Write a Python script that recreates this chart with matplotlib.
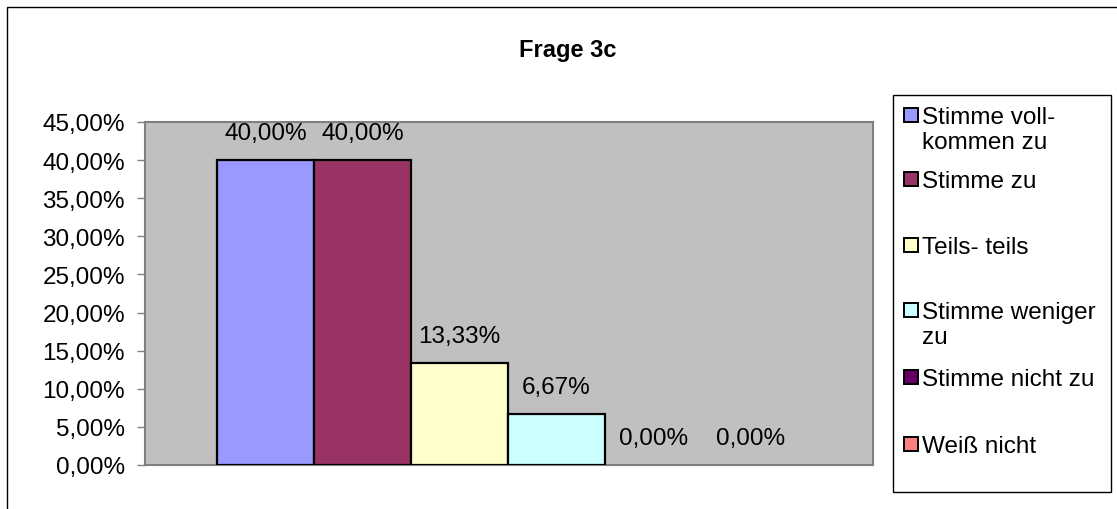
import matplotlib
matplotlib.use("Agg")
import matplotlib.pyplot as plt
from matplotlib.patches import Rectangle
from matplotlib.ticker import FuncFormatter

plt.rcParams['font.family'] = ['Liberation Sans', 'DejaVu Sans']

title = "Frage 3c"
categories = ["Stimme voll-\nkommen zu", "Stimme zu", "Teils- teils",
              "Stimme weniger\nzu", "Stimme nicht zu", "Weiß nicht"]
values = [40.00, 40.00, 13.33, 6.67, 0.00, 0.00]
colors = ["#9999FF", "#993366", "#FFFFCC", "#CCFFFF", "#660066", "#FF8080"]
yticks = [0, 5, 10, 15, 20, 25, 30, 35, 40, 45]

W, H = 1117, 510
fig = plt.figure(figsize=(W / 100, H / 100), dpi=100)

def fx(px):
    return px / W

def fy(py):
    return 1 - py / H

# outer chart border
fig.add_artist(Rectangle((fx(7), fy(600)), fx(1200) - fx(7), fy(8) - fy(600),
                         transform=fig.transFigure, fill=False,
                         edgecolor='black', linewidth=1.0))

left, right, top, bottom = 145, 873, 123, 466
ax = fig.add_axes([fx(left), fy(bottom), fx(right) - fx(left), fy(top) - fy(bottom)])
ax.set_facecolor("#C0C0C0")

xs = list(range(len(values)))
edge_w = [1.6 if v > 0 else 0 for v in values]
ax.bar(xs, values, width=1.0, color=colors, edgecolor='black', linewidth=edge_w,
       align='center', zorder=3)
for x, v in zip(xs, values):
    ax.annotate(f"{v:.2f}".replace('.', ',') + "%", (x, v),
                xytext=(0, 27), textcoords='offset pixels',
                ha='center', va='center', fontsize=17.5, color='black')

ax.set_xlim(-1.242, 6.263)
ax.set_ylim(0, 45)
ax.set_yticks(yticks)
ax.yaxis.set_major_formatter(FuncFormatter(lambda v, p: f"{v:.2f}".replace('.', ',') + "%"))
ax.set_xticks([])
ax.tick_params(axis='y', length=5.8, width=1, color='#808080', pad=8.6,
               labelsize=17.5, direction='out')
for s in ax.spines.values():
    s.set_color('#808080')
    s.set_linewidth(1.5)

fig.text(fx(568), fy(51), title, ha='center', va='center',
         fontsize=17, fontweight='bold')

# legend
fig.add_artist(Rectangle((fx(893), fy(493)), fx(1111) - fx(893), fy(96) - fy(493),
                         transform=fig.transFigure, facecolor='white',
                         edgecolor='black', linewidth=1.0))
entry_y = [118, 182, 248, 313, 380, 447]
for lab, c, yy in zip(categories, colors, entry_y):
    fig.add_artist(Rectangle((fx(904), fy(yy - 2 + 7)), fx(14), 14 / H,
                             transform=fig.transFigure, facecolor=c,
                             edgecolor='black', linewidth=1.4))
    lines = lab.split("\n")
    for i, ln in enumerate(lines):
        fig.text(fx(922), fy(yy + 25 * i), ln, ha='left', va='center',
                 fontsize=17.5)

fig.savefig("out.png", dpi=100)
